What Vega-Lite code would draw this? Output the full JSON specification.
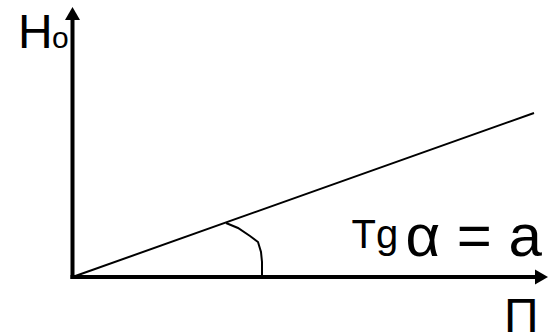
{
  "$schema": "https://vega.github.io/schema/vega-lite/v6.json",
  "width": 549,
  "height": 333,
  "autosize": {"type": "none"},
  "padding": 0,
  "background": "white",
  "view": {"stroke": null},
  "datasets": {
    "axes": [
      {"seg": "y", "x": 0, "y": 0},
      {"seg": "y", "x": 0, "y": 258},
      {"seg": "x", "x": 0, "y": 0},
      {"seg": "x", "x": 465, "y": 0}
    ],
    "heads": [
      {"dir": "up", "x": 0, "y": 263.5},
      {"dir": "right", "x": 469, "y": 0}
    ],
    "ray": [
      {"x": 0, "y": 0},
      {"x": 461.5, "y": 164}
    ],
    "arc": [
      {"x": 153.5, "y": 54},
      {"x": 165.5, "y": 49},
      {"x": 177.5, "y": 41},
      {"x": 185.5, "y": 35},
      {"x": 188.5, "y": 25},
      {"x": 189.5, "y": 15},
      {"x": 189.5, "y": 0}
    ],
    "labels": [
      {"label": "H", "kind": "axis", "x": -54.5, "y": 229},
      {"label": "П", "kind": "axis", "x": 431.5, "y": -55},
      {"label": "o", "kind": "sub", "x": -20.5, "y": 229},
      {"label": "Tg", "kind": "tg", "x": 279, "y": 29},
      {"label": "α = a", "kind": "big", "x": 333, "y": 21}
    ]
  },
  "layer": [
    {
      "data": {"name": "axes"},
      "mark": {"type": "line", "color": "black", "strokeWidth": 4, "strokeCap": "square"},
      "encoding": {
        "x": {"field": "x", "type": "quantitative", "scale": {"domain": [-72.5, 476.5], "nice": false, "zero": false}, "axis": null},
        "y": {"field": "y", "type": "quantitative", "scale": {"domain": [-56, 277], "nice": false, "zero": false}, "axis": null},
        "detail": {"field": "seg", "type": "nominal"}
      }
    },
    {
      "data": {"name": "heads"},
      "transform": [{"filter": "datum.dir === 'up'"}],
      "mark": {"type": "point", "shape": "triangle-up", "filled": true, "size": 225, "color": "black", "opacity": 1, "strokeWidth": 0},
      "encoding": {
        "x": {"field": "x", "type": "quantitative"},
        "y": {"field": "y", "type": "quantitative"}
      }
    },
    {
      "data": {"name": "heads"},
      "transform": [{"filter": "datum.dir === 'right'"}],
      "mark": {"type": "point", "shape": "triangle-right", "filled": true, "size": 225, "color": "black", "opacity": 1, "strokeWidth": 0},
      "encoding": {
        "x": {"field": "x", "type": "quantitative"},
        "y": {"field": "y", "type": "quantitative"}
      }
    },
    {
      "data": {"name": "ray"},
      "mark": {"type": "line", "color": "black", "strokeWidth": 2},
      "encoding": {
        "x": {"field": "x", "type": "quantitative"},
        "y": {"field": "y", "type": "quantitative"}
      }
    },
    {
      "data": {"name": "arc"},
      "mark": {"type": "line", "color": "black", "strokeWidth": 2, "interpolate": "linear"},
      "encoding": {
        "x": {"field": "x", "type": "quantitative"},
        "y": {"field": "y", "type": "quantitative"},
        "order": {"field": "y", "type": "quantitative", "sort": "descending"}
      }
    },
    {
      "data": {"name": "labels"},
      "transform": [{"filter": "datum.kind === 'axis'"}],
      "mark": {"type": "text", "align": "left", "baseline": "alphabetic", "font": "Liberation Sans", "fontSize": 48, "color": "black"},
      "encoding": {
        "x": {"field": "x", "type": "quantitative"},
        "y": {"field": "y", "type": "quantitative"},
        "text": {"field": "label"}
      }
    },
    {
      "data": {"name": "labels"},
      "transform": [{"filter": "datum.kind === 'sub'"}],
      "mark": {"type": "text", "align": "left", "baseline": "alphabetic", "font": "Liberation Sans", "fontSize": 30, "color": "black"},
      "encoding": {
        "x": {"field": "x", "type": "quantitative"},
        "y": {"field": "y", "type": "quantitative"},
        "text": {"field": "label"}
      }
    },
    {
      "data": {"name": "labels"},
      "transform": [{"filter": "datum.kind === 'tg'"}],
      "mark": {"type": "text", "align": "left", "baseline": "alphabetic", "font": "Liberation Sans", "fontSize": 40, "color": "black"},
      "encoding": {
        "x": {"field": "x", "type": "quantitative"},
        "y": {"field": "y", "type": "quantitative"},
        "text": {"field": "label"}
      }
    },
    {
      "data": {"name": "labels"},
      "transform": [{"filter": "datum.kind === 'big'"}],
      "mark": {"type": "text", "align": "left", "baseline": "alphabetic", "font": "Liberation Sans", "fontSize": 60, "color": "black"},
      "encoding": {
        "x": {"field": "x", "type": "quantitative"},
        "y": {"field": "y", "type": "quantitative"},
        "text": {"field": "label"}
      }
    }
  ]
}
